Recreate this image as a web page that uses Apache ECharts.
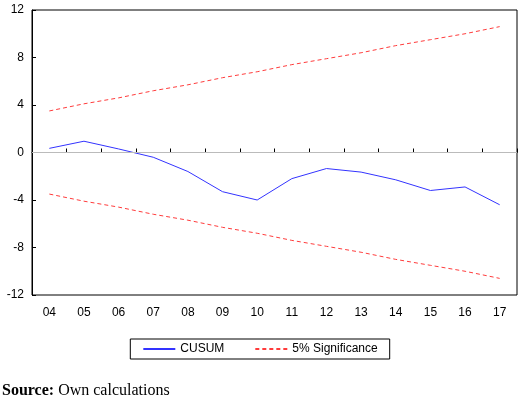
<!DOCTYPE html>
<html><head><meta charset="utf-8">
<script src="https://cdn.jsdelivr.net/npm/echarts@6/dist/echarts.min.js"></script>
<style>body{margin:0;background:#fff}#c{width:520px;height:406px}</style>
</head><body><div id="c"></div>
<script>
var years = ['04','05','06','07','08','09','10','11','12','13','14','15','16','17'];
var cusum = [0.35,0.95,0.3,-0.4,-1.6,-3.3,-4.0,-2.2,-1.35,-1.65,-2.3,-3.2,-2.9,-4.4];
var upper = [3.5,4.1,4.6,5.2,5.7,6.3,6.8,7.4,7.9,8.4,9.0,9.5,10.0,10.6];
var lower = upper.map(function(v){ return -v; });
var yTicks = [-12,-8,-4,0,4,8,12];

var chart = echarts.init(document.getElementById('c'));
var red = '#ff3b3b';
chart.setOption({
    animation: false,
    grid: { left: 32, right: 3, top: 10, bottom: 111, show: true, borderColor: '#000', borderWidth: 1 },
    xAxis: {
        type: 'category', data: years, boundaryGap: true,
        axisLine: { lineStyle: { color: '#000' } },
        axisTick: { show: true, inside: true, length: 4, lineStyle: { color: '#000' } },
        axisLabel: { color: '#000', fontFamily: 'Liberation Sans', fontSize: 12, margin: 12 }
    },
    yAxis: {
        type: 'value', min: -12, max: 12, interval: 4,
        axisLine: { show: true, lineStyle: { color: '#000' } },
        axisTick: { show: true, inside: true, length: 4, lineStyle: { color: '#000' } },
        axisLabel: { color: '#000', fontFamily: 'Liberation Sans', fontSize: 12,
            formatter: function(v){ return yTicks.indexOf(v) >= 0 ? String(v) : ''; } },
        splitLine: { show: false }
    },
    legend: {
        bottom: 47, left: 'center',
        data: ['CUSUM', '5% Significance'],
        itemWidth: 32, itemHeight: 2, itemGap: 30,
        borderColor: '#000', borderWidth: 1, padding: [4, 12],
        textStyle: { color: '#000', fontFamily: 'Liberation Sans', fontSize: 12 }
    },
    graphic: [
        { type: 'text', left: 2, top: 383, style: {
            text: '{b|Source:} Own calculations',
            rich: { b: { fontWeight: 'bold', fontFamily: 'Liberation Serif', fontSize: 16, fill: '#000' } },
            fontFamily: 'Liberation Serif', fontSize: 16, fill: '#000' } }
    ],
    series: [
        { name: 'CUSUM', type: 'line', data: cusum, symbol: 'none',
          lineStyle: { color: '#3333ff', width: 1 }, itemStyle: { color: '#3333ff' },
          markLine: { silent: true, symbol: 'none', label: { show: false },
              lineStyle: { color: '#bbb', type: 'solid', width: 1 }, data: [{ yAxis: 0 }] } },
        { name: '5% Significance', type: 'line', data: upper, symbol: 'none',
          lineStyle: { color: red, width: 1, type: [4, 3] }, itemStyle: { color: red } },
        { name: '5% Significance', type: 'line', data: lower, symbol: 'none',
          lineStyle: { color: red, width: 1, type: [4, 3] }, itemStyle: { color: red } }
    ]
});
</script></body></html>
